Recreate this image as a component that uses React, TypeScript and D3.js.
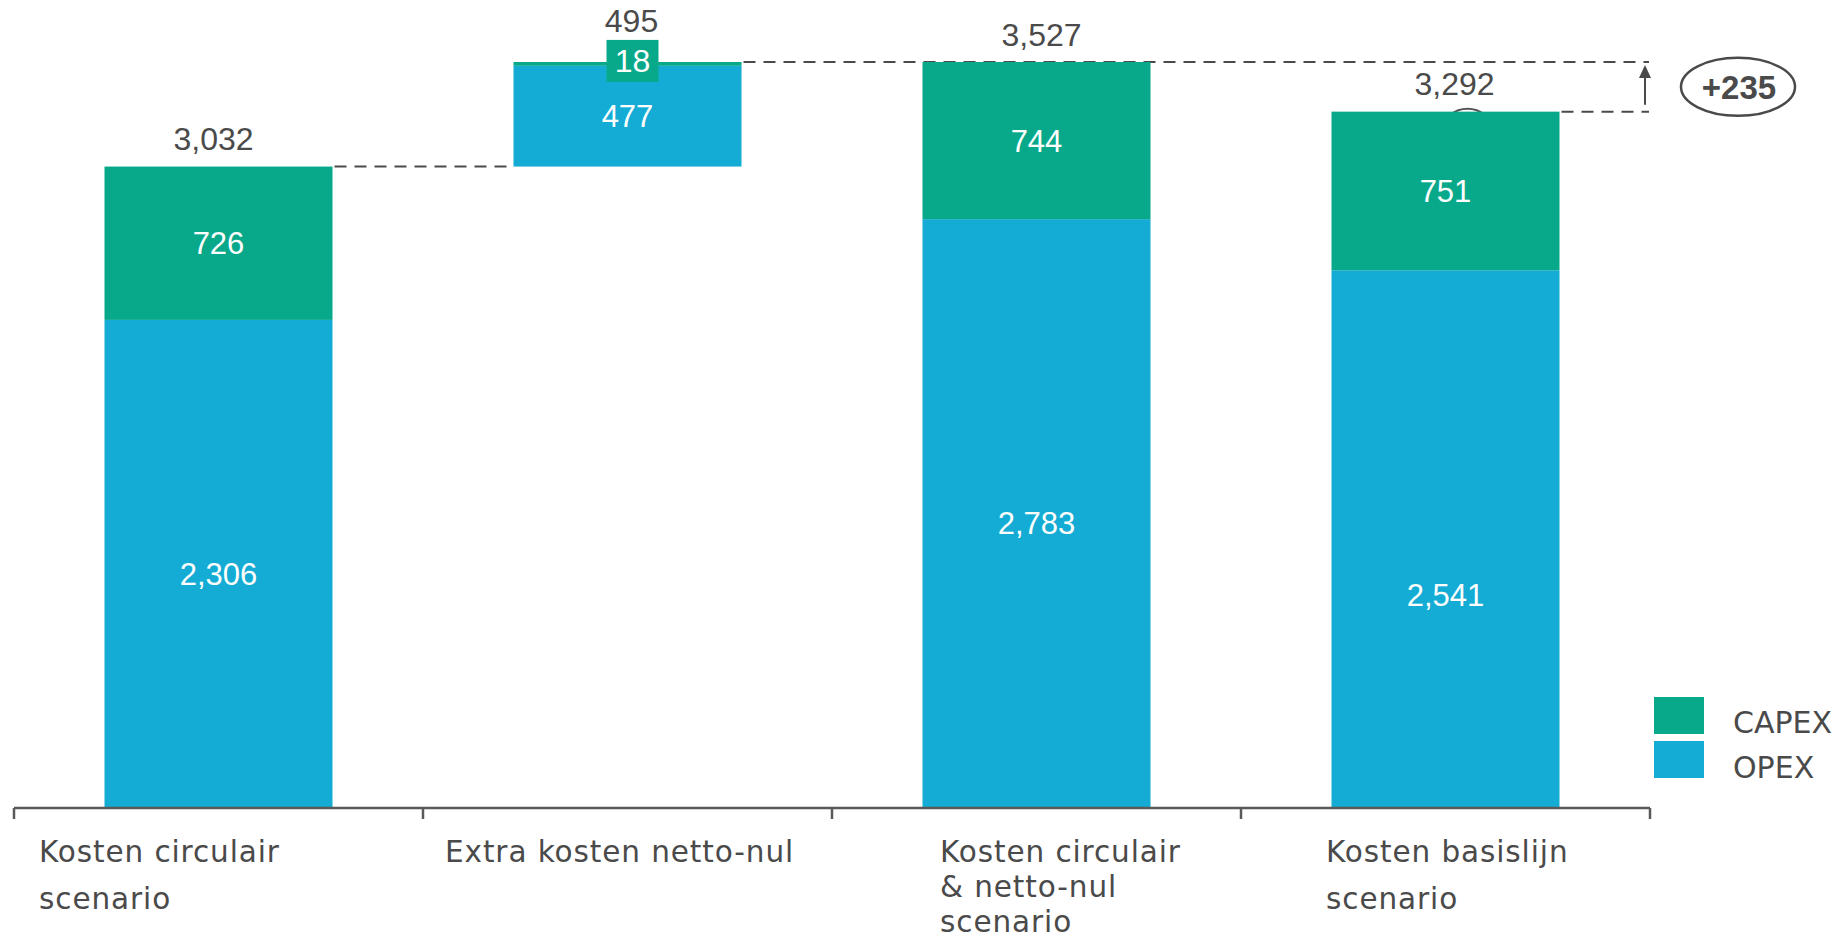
import * as d3 from "d3";

// chart values
const categories = [
  "Kosten circulair scenario",
  "Extra kosten netto-nul",
  "Kosten circulair & netto-nul scenario",
  "Kosten basislijn scenario",
];
const categoryLines = [
  ["Kosten circulair", "scenario"],
  ["Extra kosten netto-nul"],
  ["Kosten circulair", "& netto-nul", "scenario"],
  ["Kosten basislijn", "scenario"],
];
const opex = [2306, 477, 2783, 2541];
const capex = [726, 18, 744, 751];
// the second bar floats on top of the first one (waterfall step)
const floating = [false, true, false, false];
const seriesNames = ["CAPEX", "OPEX"];

// layout
const W = 1836;
const H = 939;
const green = "#08a98a";
const blue = "#14acd4";
const grey = "#4a4a4a";
const labelOffsetX = [25, 22, 108, 85];
const labelLineHeight = [47, 47, 35, 47];
const opexLabelShift = [10, 0, 10, 56];
const totalLabelShift = [-5, 4, 5, 9];

const fmt = d3.format(",");

export default function App() {
  // build the waterfall rows
  const rows = categories.map((c, i) => {
    const base = floating[i] ? opex[i - 1] + capex[i - 1] : 0;
    return {
      name: c,
      base,
      opexTop: base + opex[i],
      top: base + opex[i] + capex[i],
      opex: opex[i],
      capex: capex[i],
      floating: floating[i],
    };
  });

  const maxTop = d3.max(rows, (d) => d.top) as number;

  const xScale = d3
    .scaleBand()
    .domain(categories)
    .range([14, 1650])
    .paddingInner(0.4425)
    .paddingOuter(0.22125);

  const yScale = d3.scaleLinear().domain([0, maxTop]).range([807, 62]);

  const bw = xScale.bandwidth();
  const step = xScale.step();
  const tickXs = d3.range(categories.length + 1).map((i) => 14 + i * step);

  const last = rows[rows.length - 1];
  const delta = maxTop - last.top;
  const bar2 = rows[1];
  const bar1 = rows[0];
  const rightEnd = 1649;

  const valueFont = "'Liberation Sans', Arial, sans-serif";
  const labelFont = "'DejaVu Sans', sans-serif";

  return (
    <svg
      width={W}
      height={H}
      style={{ position: "absolute", left: 0, top: 0, background: "#fff" }}
    >
      {/* dashed connectors */}
      <g stroke={grey} strokeWidth={2} strokeDasharray="12,8" fill="none">
        <line
          x1={(xScale(bar1.name) as number) + bw + 2}
          x2={xScale(bar2.name) as number}
          y1={yScale(bar1.top)}
          y2={yScale(bar1.top)}
        />
        <line
          x1={(xScale(bar2.name) as number) + bw + 2}
          x2={rightEnd}
          y1={yScale(bar2.top)}
          y2={yScale(bar2.top)}
        />
        <line
          x1={(xScale(last.name) as number) + bw + 2}
          x2={rightEnd}
          y1={yScale(last.top)}
          y2={yScale(last.top)}
        />
      </g>

      {/* little ellipse peeking out behind the last bar */}
      <ellipse
        cx={(xScale(last.name) as number) + bw / 2 + 22}
        cy={yScale(last.top) + 18}
        rx={24}
        ry={21}
        fill="none"
        stroke="#555"
        strokeWidth={2}
      />

      {/* bars */}
      {rows.map((d) => {
        const x = xScale(d.name) as number;
        return (
          <g key={d.name}>
            <rect
              x={x}
              y={yScale(d.opexTop)}
              width={bw}
              height={yScale(d.base) - yScale(d.opexTop)}
              fill={blue}
            />
            <rect
              x={x}
              y={yScale(d.top)}
              width={bw}
              height={yScale(d.opexTop) - yScale(d.top)}
              fill={green}
            />
          </g>
        );
      })}

      {/* labels inside and above bars */}
      {rows.map((d, i) => {
        const cx = (xScale(d.name) as number) + bw / 2;
        const opexY = (yScale(d.base) + yScale(d.opexTop)) / 2 + opexLabelShift[i];
        const capexY = (yScale(d.opexTop) + yScale(d.top)) / 2;
        return (
          <g key={"lab" + d.name} fontFamily={valueFont} textAnchor="middle">
            <text x={cx} y={opexY} dy="0.36em" fill="#fff" fontSize={31}>
              {fmt(d.opex)}
            </text>
            {d.floating ? (
              <g>
                <rect
                  x={cx - 21}
                  y={capexY - 24}
                  width={52}
                  height={42}
                  fill={green}
                />
                <text
                  x={cx + 5}
                  y={capexY - 3}
                  dy="0.36em"
                  fill="#fff"
                  fontSize={32}
                >
                  {fmt(d.capex)}
                </text>
                <text
                  x={cx + totalLabelShift[i]}
                  y={yScale(d.top) - 42}
                  dy="0.36em"
                  fill={grey}
                  fontSize={32}
                >
                  {fmt(d.opex + d.capex)}
                </text>
              </g>
            ) : (
              <g>
                <text x={cx} y={capexY} dy="0.36em" fill="#fff" fontSize={31}>
                  {fmt(d.capex)}
                </text>
                <text
                  x={cx + totalLabelShift[i]}
                  y={yScale(d.top) - 28}
                  dy="0.36em"
                  fill={grey}
                  fontSize={32}
                >
                  {fmt(d.top)}
                </text>
              </g>
            )}
          </g>
        );
      })}

      {/* delta arrow + ellipse */}
      <line
        x1={1645}
        x2={1645}
        y1={yScale(last.top) - 7}
        y2={yScale(maxTop) + 14}
        stroke={grey}
        strokeWidth={2}
      />
      <path
        d={`M1645,${yScale(maxTop) + 3} L1639,${yScale(maxTop) + 16} L1651,${
          yScale(maxTop) + 16
        } Z`}
        fill={grey}
      />
      <ellipse
        cx={1738}
        cy={(yScale(maxTop) + yScale(last.top)) / 2}
        rx={57}
        ry={29}
        fill="none"
        stroke={grey}
        strokeWidth={2.5}
      />
      <text
        x={1739}
        y={(yScale(maxTop) + yScale(last.top)) / 2}
        dy="0.36em"
        textAnchor="middle"
        fontFamily={valueFont}
        fontWeight="bold"
        fontSize={33}
        fill={grey}
      >
        {"+" + fmt(delta)}
      </text>

      {/* x axis */}
      <g stroke="#595959" strokeWidth={2.5} fill="none">
        <line x1={14} x2={1650} y1={808} y2={808} />
        {tickXs.map((tx) => (
          <line key={tx} x1={tx} x2={tx} y1={808} y2={819} />
        ))}
      </g>
      {categoryLines.map((lines, i) => (
        <text
          key={"cat" + i}
          x={tickXs[i] + labelOffsetX[i]}
          y={862}
          fontFamily={labelFont}
          fontSize={29.5}
          letterSpacing={0.9}
          fill={grey}
        >
          {lines.map((l, j) => (
            <tspan
              key={j}
              x={tickXs[i] + labelOffsetX[i]}
              y={862 + j * labelLineHeight[i]}
            >
              {l}
            </tspan>
          ))}
        </text>
      ))}

      {/* legend */}
      {seriesNames.map((s, i) => (
        <g key={s}>
          <rect
            x={1654}
            y={697 + i * 44}
            width={50}
            height={37}
            fill={s === "CAPEX" ? green : blue}
          />
          <text
            x={1733}
            y={722 + i * 45}
            dy="0.36em"
            fontFamily={labelFont}
            fontSize={30}
            fill={grey}
          >
            {s}
          </text>
        </g>
      ))}
    </svg>
  );
}
